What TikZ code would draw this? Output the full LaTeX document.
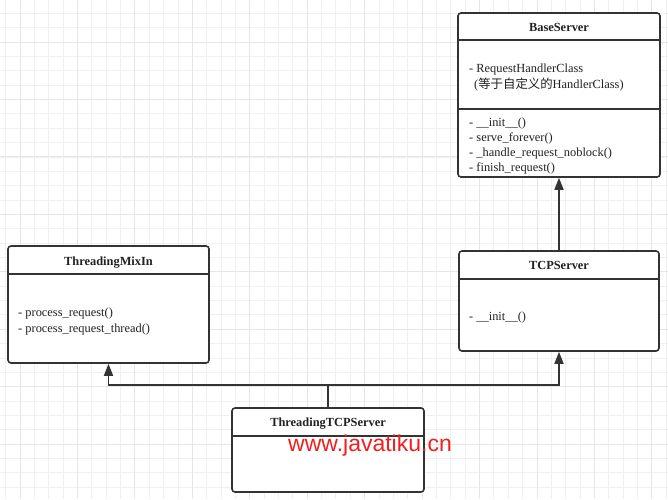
\documentclass[tikz,border=0pt]{standalone}
\usepackage{fontspec}
\setmainfont{Liberation Serif}
\newfontfamily\cjk{Noto Sans CJK SC}
\newfontfamily\wmfont{Liberation Sans}
\usetikzlibrary{arrows.meta}
\definecolor{gridminor}{RGB}{240,240,240}
\definecolor{gridmajor}{RGB}{230,230,230}
\definecolor{umlline}{RGB}{51,51,51}
\definecolor{umltext}{RGB}{34,34,34}
\definecolor{wmred}{RGB}{245,30,30}
\tikzset{
  cls/.style={draw=umlline, line width=1.6pt, rounded corners=3pt, fill=white, inner sep=0pt},
  sep/.style={draw=umlline, line width=1.6pt},
  title/.style={font=\bfseries\fontsize{12.4}{14}\selectfont, text=umltext, inner sep=0pt, anchor=base},
  member/.style={font=\fontsize{12.4}{14}\selectfont, text=umltext, inner sep=0pt, anchor=base west},
  conn/.style={draw=umlline, line width=1.6pt, -{Triangle[length=12pt,width=9pt]}},
  minorline/.style={draw=gridminor, line width=0.8pt},
  majorline/.style={draw=gridmajor, line width=1pt},
}
\begin{document}
\begin{tikzpicture}[x=1pt,y=-1pt]
\useasboundingbox (0,0) rectangle (668,499);
\fill[white] (0,0) rectangle (668,499);
% grid
\foreach \i in {0,...,46} {
  \draw[minorline] ({5.6+\i*14.36},0) -- ++(0,499);
}
\foreach \i in {0,...,34} {
  \draw[minorline] (0,{13.3+\i*14.36}) -- ++(668,0);
}
\foreach \i in {0,...,11} {
  \draw[majorline] ({20+\i*57.45},0) -- ++(0,499);
}
\foreach \i in {0,...,8} {
  \draw[majorline] (0,{42+\i*57.45}) -- ++(668,0);
}

% BaseServer
\node[cls, minimum width=202pt, minimum height=164pt] (base) at (559,95) {};
\draw[sep] (base.west |- 0,40) -- (base.east |- 0,40);
\draw[sep] (base.west |- 0,109) -- (base.east |- 0,109);
\node[title] (baset) at (559,31) {BaseServer};
\node[member] (basea1) at (469,72) {- RequestHandlerClass};
\node[member] (basea2) at (474,88) {({\cjk 等于自定义的}HandlerClass)};
\node[member] (basem1) at (469,126) {- \_\_init\_\_()};
\node[member] (basem2) at (469,141) {- serve\_forever()};
\node[member] (basem3) at (469,156) {- \_handle\_request\_noblock()};
\node[member] (basem4) at (469,171) {- finish\_request()};

% ThreadingMixIn
\node[cls, minimum width=201pt, minimum height=117pt] (mixin) at (108.5,304.5) {};
\draw[sep] (mixin.west |- 0,274) -- (mixin.east |- 0,274);
\node[title] (mixint) at (108.5,265) {ThreadingMixIn};
\node[member] (mixinm1) at (18,316) {- process\_request()};
\node[member] (mixinm2) at (18,332) {- process\_request\_thread()};

% TCPServer
\node[cls, minimum width=200pt, minimum height=100pt] (tcp) at (559,301) {};
\draw[sep] (tcp.west |- 0,279) -- (tcp.east |- 0,279);
\node[title] (tcpt) at (559,269) {TCPServer};
\node[member] (tcpm1) at (469,320) {- \_\_init\_\_()};

% ThreadingTCPServer
\node[cls, minimum width=192pt, minimum height=84pt] (tt) at (328,450) {};
\draw[sep] (tt.west |- 0,436) -- (tt.east |- 0,436);
\node[title] (ttt) at (328,426) {ThreadingTCPServer};

% connectors
\coordinate (junction) at (328,385);
\draw[conn] (tcp.north) -- (base.south);
\draw[conn] (tt.north) -- (junction) -| (mixin.south);
\draw[conn] (junction) -| (tcp.south);

% watermark
\node[font=\wmfont\fontsize{23}{26}\selectfont, text=wmred, inner sep=0pt, anchor=base west] (wm) at (288,451) {www.javatiku.cn};
\end{tikzpicture}
\end{document}
